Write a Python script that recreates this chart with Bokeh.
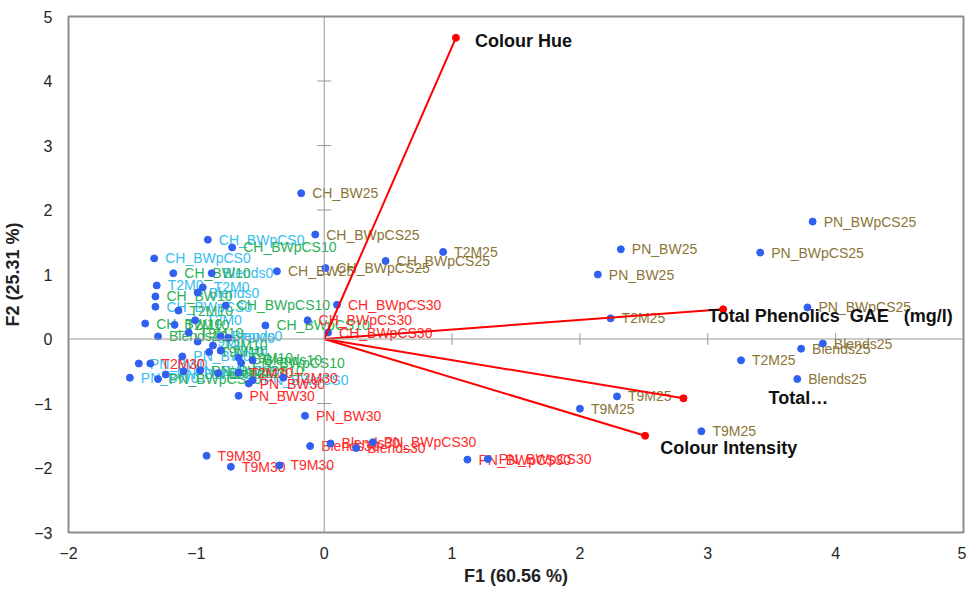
import math
from bokeh.plotting import figure
from bokeh.models import ColumnDataSource, Range1d, Span, FixedTicker
from bokeh.core.properties import value
from bokeh.embed import file_html
from bokeh.resources import INLINE

# ---------------- data ----------------
x_ticks = [-2, -1, 0, 1, 2, 3, 4, 5]
y_ticks = [-3, -2, -1, 0, 1, 2, 3, 4, 5]

lab_0 = ["CH_BWpCS0", "CH_BWpCS0", "CH_BWpCS0", "T2M0", "T2M0", "T2M0",
         "Blends0", "Blends0", "Blends0", "T9M0", "T9M0", "T9M0",
         "PN_BW0", "PN_BW0", "PN_BW0", "PN_BWpCS0", "PN_BWpCS0", "PN_BWpCS0"]
f1_0 = [-0.91, -1.33, -1.32, -1.31, -0.95, -1.01, -0.88, -0.99, -0.81,
        -0.99, -0.81, -0.75, -1.11, -1.45, -1.52, -1.24, -1.10, -0.56]
f2_0 = [1.54, 1.25, 0.50, 0.83, 0.80, 0.29, 1.02, 0.72, 0.04,
        -0.04, -0.18, 0.02, -0.27, -0.38, -0.60, -0.55, -0.50, -0.64]

lab_10 = ["CH_BWpCS10", "CH_BWpCS10", "CH_BWpCS10", "CH_BW10", "CH_BW10", "CH_BW10",
          "T2M10", "T2M10", "T2M10", "T9M10", "T9M10", "T9M10",
          "Blends10", "Blends10", "Blends10", "PN_BWpCS10", "PN_BWpCS10", "PN_BWpCS10"]
f1_10 = [-0.72, -0.77, -0.46, -1.18, -1.32, -1.40, -1.14, -1.17, -0.87,
         -1.06, -0.67, -0.90, -1.30, -0.56, -0.83, -0.97, -1.30, -0.65]
f2_10 = [1.42, 0.52, 0.21, 1.02, 0.66, 0.24, 0.44, 0.22, -0.10,
         0.10, -0.29, -0.20, 0.04, -0.33, -0.53, -0.49, -0.62, -0.37]

lab_25 = ["CH_BW25", "CH_BWpCS25", "CH_BW25", "CH_BWpCS25", "CH_BWpCS25", "T2M25",
          "PN_BW25", "PN_BW25", "PN_BWpCS25", "PN_BWpCS25", "PN_BWpCS25",
          "T2M25", "T2M25", "Blends25", "Blends25", "Blends25",
          "T9M25", "T9M25", "T9M25"]
f1_25 = [-0.18, -0.07, -0.37, 0.01, 0.48, 0.93, 2.32, 2.14, 3.82, 3.41, 3.78,
         2.24, 3.26, 3.73, 3.90, 3.70, 2.29, 2.00, 2.95]
f2_25 = [2.26, 1.62, 1.05, 1.10, 1.21, 1.35, 1.39, 1.00, 1.82, 1.34, 0.49,
         0.32, -0.33, -0.15, -0.07, -0.62, -0.89, -1.08, -1.43]

lab_30 = ["CH_BWpCS30", "CH_BWpCS30", "CH_BWpCS30", "T2M30", "T2M30", "T2M30",
          "PN_BW30", "PN_BW30", "PN_BW30", "Blends30", "Blends30", "Blends30",
          "PN_BWpCS30", "PN_BWpCS30", "PN_BWpCS30", "T9M30", "T9M30", "T9M30"]
f1_30 = [0.10, -0.13, 0.03, -1.36, -0.67, -0.32, -0.59, -0.67, -0.15,
         0.05, -0.11, 0.25, 0.38, 1.12, 1.28, -0.92, -0.73, -0.35]
f2_30 = [0.53, 0.29, 0.10, -0.38, -0.52, -0.60, -0.69, -0.88, -1.19,
         -1.62, -1.66, -1.69, -1.60, -1.87, -1.86, -1.81, -1.98, -1.96]

var_names = ["Colour Hue",
             "Total Phenolics\u00a0\u00a0GAE\u00a0\u00a0\u00a0(mg/l)",
             "Total…", "Colour Intensity"]
var_f1 = [1.03, 3.12, 2.81, 2.51]
var_f2 = [4.67, 0.46, -0.92, -1.50]

# ---------------- styles ----------------
level_colors = ["#36BDEE", "#2BB056", "#8B7536", "#FF2A2A"]
var_label_dx = [19, -15, 85, 15]
var_label_dy = [3, 7, 0, 12]
FONT = "Liberation Sans"

p = figure(width=966, height=592, output_backend="svg", toolbar_location=None,
           x_range=Range1d(-2, 5), y_range=Range1d(-3, 5),
           min_border_left=60, min_border_right=3, min_border_top=16, min_border_bottom=60)
p.grid.visible = False
p.outline_line_color = "#8C8C8C"
p.outline_line_width = 2
p.background_fill_color = "white"

for ax in (p.xaxis[0], p.yaxis[0]):
    ax.axis_line_color = None
    ax.major_tick_line_color = None
    ax.minor_tick_line_color = None
    ax.major_label_text_font = FONT
    ax.major_label_text_font_size = "16px"
    ax.major_label_text_color = "#262626"
    ax.axis_label_text_font = FONT
    ax.axis_label_text_font_size = "18px"
    ax.axis_label_text_font_style = "bold"
    ax.axis_label_text_color = "#222222"
p.xaxis.ticker = FixedTicker(ticks=x_ticks)
p.yaxis.ticker = FixedTicker(ticks=y_ticks)
p.xaxis.axis_label = "F1 (60.56 %)"
p.yaxis.axis_label = "F2 (25.31 %)"
p.xaxis.major_label_standoff = 8
p.yaxis.major_label_standoff = 10
p.xaxis.axis_label_standoff = 4
p.yaxis.axis_label_standoff = 8

# zero axes with cross ticks
p.add_layout(Span(location=0, dimension="width", line_color="#999999", line_width=1))
p.add_layout(Span(location=0, dimension="height", line_color="#999999", line_width=1))
yt = [t for t in y_ticks[1:-1] if t != 0]
xt = [t for t in x_ticks[1:-1] if t != 0]
p.scatter(x=[0] * len(yt), y=yt, marker="dash", size=14, line_color="#999999", line_width=1)
p.scatter(x=xt, y=[0] * len(xt), marker="dash", angle=math.pi / 2, size=12,
          line_color="#999999", line_width=1)

# observation labels and points
all_x, all_y = [], []
for labs, xs, ys, col in [(lab_0, f1_0, f2_0, level_colors[0]),
                          (lab_10, f1_10, f2_10, level_colors[1]),
                          (lab_25, f1_25, f2_25, level_colors[2]),
                          (lab_30, f1_30, f2_30, level_colors[3])]:
    src = ColumnDataSource(dict(x=xs, y=ys, t=labs))
    p.text(x="x", y="y", text="t", source=src, x_offset=11, y_offset=0,
           text_baseline="middle", text_align="left", text_color=col,
           text_font=value(FONT), text_font_size="14px")
    all_x += xs
    all_y += ys
p.scatter(x=all_x, y=all_y, size=7, fill_color="#3060F0", line_color="#3060F0")

# variable vectors
for i in range(len(var_names)):
    p.line(x=[0, var_f1[i]], y=[0, var_f2[i]], line_color="#FF0000", line_width=2)
p.scatter(x=var_f1, y=var_f2, size=7, fill_color="#FF0000", line_color="#FF0000")
vsrc = ColumnDataSource(dict(x=var_f1, y=var_f2, t=var_names, dx=var_label_dx, dy=var_label_dy))
p.text(x="x", y="y", text="t", source=vsrc, x_offset="dx", y_offset="dy",
       text_baseline="middle", text_align="left", text_color="#111111",
       text_font=value(FONT), text_font_size="18px", text_font_style="bold")

open("out.html", "w").write(file_html(p, INLINE))
